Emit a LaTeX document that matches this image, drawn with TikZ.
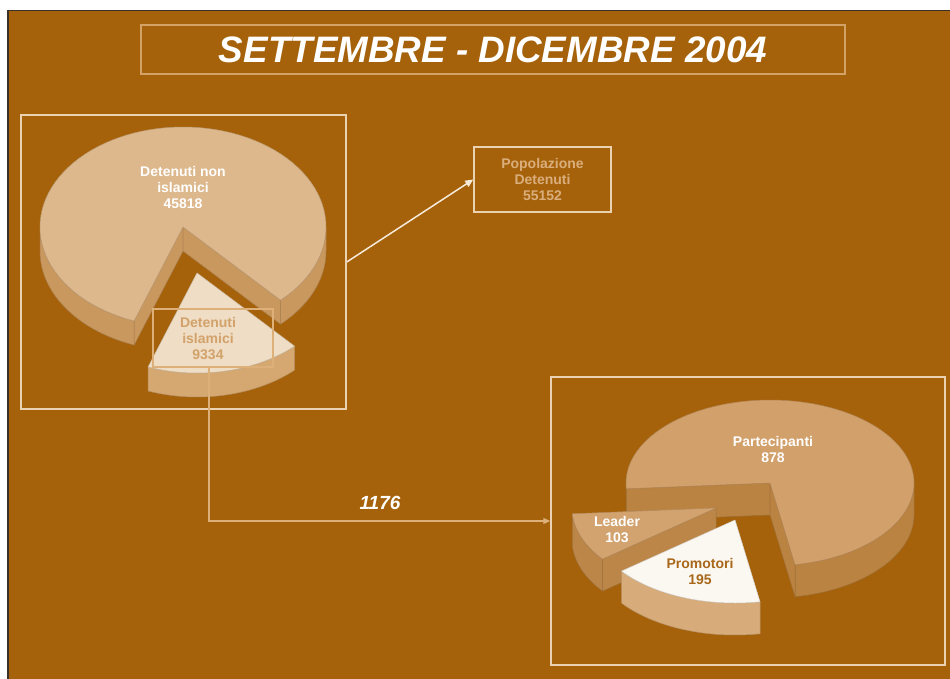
\documentclass[tikz,border=0pt]{standalone}
\usepackage{fontspec}
\setmainfont{Liberation Sans}
\usetikzlibrary{arrows.meta}
\definecolor{bg}{HTML}{A5620A}
\definecolor{frame}{HTML}{3A3028}
\definecolor{boxline}{HTML}{EBD2B0}
\definecolor{titleline}{HTML}{D3A266}
\definecolor{bigtop}{HTML}{DDB88C}
\definecolor{bigside}{HTML}{C9985F}
\definecolor{smalltop}{HTML}{EFDDC5}
\definecolor{smallside}{HTML}{D5A872}
\definecolor{parttop}{HTML}{D2A06A}
\definecolor{partside}{HTML}{BA8342}
\definecolor{leadtop}{HTML}{D3A36F}
\definecolor{leadside}{HTML}{BC8648}
\definecolor{promtop}{HTML}{FBF7F1}
\definecolor{promside}{HTML}{D8AC7A}
\definecolor{isltext}{HTML}{D2A26A}
\definecolor{poptext}{HTML}{DAAE7C}
\definecolor{promtext}{HTML}{A8681A}
\definecolor{conn}{HTML}{DDB07A}
\definecolor{popline}{HTML}{F6EADB}
% cx cy rx ry d a b colour
\newcommand\pieside[8]{%
  \fill[#8, draw=#8!85!black, line width=0.5pt, line join=round]
    plot[domain=#6:#7, samples=40] ({#1+#3*cos(\x)},{#2+#4*sin(\x)})
    -- plot[domain=#7:#6, samples=40] ({#1+#3*cos(\x)},{#2+#5+#4*sin(\x)}) -- cycle;}
% cx cy rx ry d angle colour
\newcommand\piecut[7]{%
  \fill[#7, draw=#7!85!black, line width=0.5pt, line join=round]
    (#1,#2) -- ({#1+#3*cos(#6)},{#2+#4*sin(#6)}) -- ++(0,#5) -- (#1,{#2+#5}) -- cycle;}
% cx cy rx ry a b colour
\newcommand\pietop[7]{%
  \fill[#7, draw=#7!85!black, line width=0.5pt, line join=round]
    (#1,#2) -- plot[domain=#5:#6, samples=90] ({#1+#3*cos(\x)},{#2+#4*sin(\x)}) -- cycle;}
\begin{document}
\begin{tikzpicture}[x=1pt, y=-1pt,
  boxnode/.style={draw=boxline, line width=1.5pt, inner sep=0pt},
  lbl/.style={align=center, font=\fontsize{14}{16}\selectfont\bfseries, inner sep=0pt},
  arrowline/.style={line width=1.5pt, -{Triangle[length=8pt, width=7pt]}}]
\useasboundingbox (0,0) rectangle (950,679);
\fill[white] (0,0) rectangle (950,679);
\fill[bg] (7,10) rectangle (950,679);
\draw[frame, line width=1.5pt] (7.75,679) -- (7.75,10.75) -- (950,10.75);

% title
\node[draw=titleline, line width=2pt, minimum width=704pt, minimum height=49pt, inner sep=0pt,
      text=white, font=\fontsize{36.8}{40}\selectfont\bfseries\itshape] (title) at (493,49.5)
      {SETTEMBRE - DICEMBRE 2004};

% left pie: big slice
\piecut{183}{227}{143}{100}{24}{110}{bigside}
\pieside{183}{227}{143}{100}{24}{110}{180}{bigside}
\pieside{183}{227}{143}{100}{24}{0}{47}{bigside}
\piecut{183}{227}{143}{100}{24}{47}{bigside}
\pietop{183}{227}{143}{100}{110}{407}{bigtop}
% left pie: small slice
\pieside{197}{273}{143}{100}{24}{47}{110}{smallside}
\pietop{197}{273}{143}{100}{47}{110}{smalltop}

% right pie: Partecipanti
\pieside{770}{483}{144}{83}{32}{176}{180}{partside}
\pieside{770}{483}{144}{83}{32}{0}{80}{partside}
\piecut{770}{483}{144}{83}{32}{176}{partside}
\piecut{770}{483}{144}{83}{32}{80}{partside}
\pietop{770}{483}{144}{83}{176}{440}{parttop}
% Leader
\pieside{716}{508}{144}{83}{32}{142}{176}{leadside}
\piecut{716}{508}{144}{83}{32}{142}{leadside}
\pietop{716}{508}{144}{83}{142}{176}{leadtop}
% Promotori
\pieside{735}{520}{144}{83}{32}{80}{142}{promside}
\pietop{735}{520}{144}{83}{80}{142}{promtop}

% boxes
\node[boxnode, minimum width=325pt, minimum height=294pt] (leftbox) at (183.5,262) {};
\node[boxnode, minimum width=137pt, minimum height=65pt, lbl, text=poptext] (popbox) at (542.5,179.5)
  {Popolazione\\Detenuti\\55152};
\node[boxnode, minimum width=394pt, minimum height=288pt] (rightbox) at (748,521) {};
\node[draw=conn, line width=1.2pt, minimum width=120pt, minimum height=58pt, inner sep=0pt] (islbox) at (213,338) {};

% labels
\node[lbl, text=white] (nonisl) at (183,187) {Detenuti non\\islamici\\45818};
\node[lbl, text=isltext] (isl) at (208,339) {Detenuti\\islamici\\9334};
\node[lbl, text=white] (part) at (773,449) {Partecipanti\\878};
\node[lbl, text=white] (lead) at (617,530) {Leader\\103};
\node[lbl, text=promtext] (prom) at (700,571) {Promotori\\195};
\node[text=white, font=\fontsize{19}{22}\selectfont\bfseries\itshape, inner sep=0pt] (n1176) at (380,503) {1176};

% connectors
\draw[arrowline, draw=popline, fill=popline] (leftbox.east) -- (popbox.west);
\draw[conn, line width=1.2pt, -{Triangle[length=7pt, width=6pt]}] ([xshift=-4pt]islbox.south) |- (rightbox.west);
\end{tikzpicture}
\end{document}
